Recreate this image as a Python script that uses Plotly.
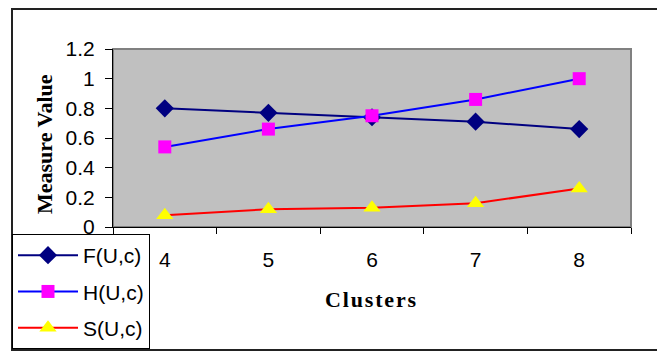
import plotly.graph_objects as go

# Cluster counts and the three validity measures
clusters = ["4", "5", "6", "7", "8"]
f_values = [0.80, 0.77, 0.74, 0.71, 0.66]
h_values = [0.54, 0.66, 0.75, 0.86, 1.00]
s_values = [0.08, 0.12, 0.13, 0.16, 0.26]
y_ticks = [0, 0.2, 0.4, 0.6, 0.8, 1, 1.2]
y_tick_text = ["0", "0.2", "0.4", "0.6", "0.8", "1", "1.2"]

W, H = 657, 352
L, R, T, B = 113, 26, 49, 125
pw, ph = W - L - R, H - T - B

def px_x(x):
    return (x - L) / pw

def px_y(y):
    return (H - B - y) / ph

sans = "Liberation Sans, Arial, sans-serif"
serif = "Liberation Serif, Times New Roman, serif"

fig = go.Figure()
fig.add_trace(go.Scatter(
    x=clusters, y=f_values, name="F(U,c)", mode="lines+markers", legendgroup="f",
    line=dict(color="#000080", width=2),
    marker=dict(symbol="diamond", size=14, color="#000080"),
))
fig.add_trace(go.Scatter(
    x=clusters, y=h_values, name="H(U,c)", mode="lines+markers", legendgroup="h",
    line=dict(color="#0000FF", width=2),
    marker=dict(symbol="square", size=13, color="#FF00FF"),
))
fig.add_trace(go.Scatter(
    x=clusters, y=s_values, name="S(U,c)", mode="lines+markers", legendgroup="s",
    line=dict(color="#FF0000", width=2),
    marker=dict(symbol="triangle-up", size=15, color="#FFFF00"),
))

# outer chart border
fig.add_shape(type="rect", xref="paper", yref="paper",
              x0=px_x(12), x1=px_x(700), y0=px_y(350), y1=px_y(9),
              line=dict(color="#222222", width=2), layer="below")
# plot area frame
fig.add_shape(type="rect", xref="paper", yref="paper",
              x0=0, x1=1, y0=0, y1=1,
              line=dict(color="#808080", width=2), layer="below")

# axis titles
fig.add_annotation(text="Measure Value", textangle=-90, showarrow=False,
                   xref="paper", yref="paper", x=px_x(44), y=px_y(144),
                   xanchor="center", yanchor="middle",
                   font=dict(family=serif, size=22, weight="bold", color="black"))
fig.add_annotation(text="\u200a".join("Clusters"), showarrow=False,
                   xref="paper", yref="paper", x=px_x(371), y=px_y(299),
                   xanchor="center", yanchor="middle",
                   font=dict(family=serif, size=22, weight="bold", color="black"))

fig.update_layout(
    width=W, height=H,
    margin=dict(l=L, r=R, t=T, b=B, autoexpand=False),
    paper_bgcolor="white",
    plot_bgcolor="#C0C0C0",
    font=dict(family=sans, size=21, color="black"),
    showlegend=True,
    legend=dict(
        x=px_x(12), y=px_y(234), xanchor="left", yanchor="top",
        bgcolor="white", bordercolor="black", borderwidth=1,
        font=dict(family=sans, size=21, color="black"),
        itemwidth=60, tracegroupgap=6,
    ),
    xaxis=dict(
        type="category", range=[-0.5, 4.5], tickson="boundaries",
        ticks="outside", ticklen=6, tickcolor="black",
        showline=True, linecolor="black", linewidth=1,
        showgrid=False, zeroline=False,
        ticklabelstandoff=14,
    ),
    yaxis=dict(
        range=[0, 1.2], tickvals=y_ticks, ticktext=y_tick_text,
        ticks="outside", ticklen=7, tickcolor="black",
        showline=True, linecolor="black", linewidth=1,
        showgrid=False, zeroline=False,
        ticklabelstandoff=6,
    ),
)

fig.write_html("out.html")
